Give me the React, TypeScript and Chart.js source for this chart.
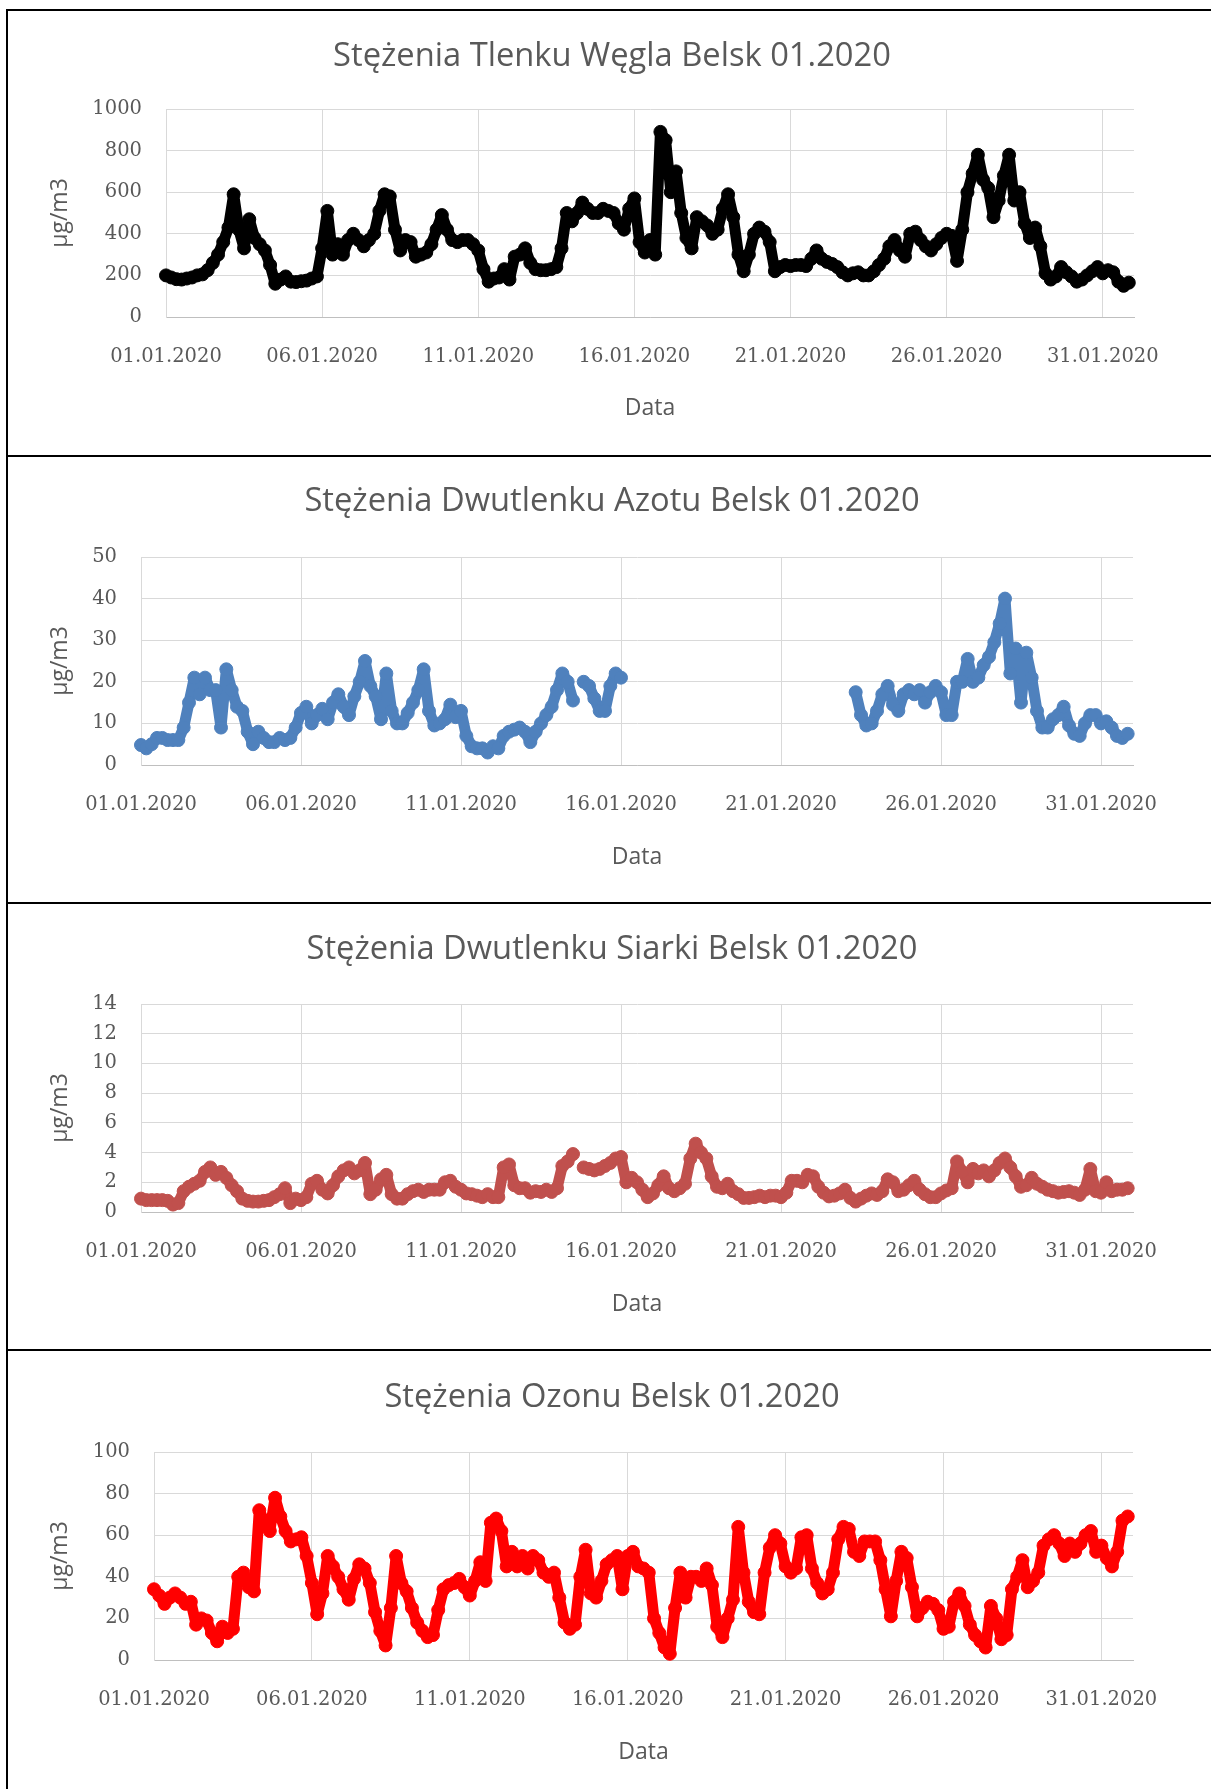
import React, { useEffect, useRef } from "react";
import { Chart, registerables } from "chart.js";

Chart.register(...registerables);

// ---------- DATA ----------
const tickLabels = ["01.01.2020", "06.01.2020", "11.01.2020", "16.01.2020", "21.01.2020", "26.01.2020", "31.01.2020"];
const samplesPerDay = 6; // one reading every 4 hours

const coValues = [
  200, 190, 182, 180, 185, 190,
  200, 205, 225, 260, 300, 360,
  430, 590, 420, 330, 470, 380,
  350, 320, 250, 160, 180, 195,
  170, 168, 172, 175, 185, 195,
  330, 510, 300, 350, 300, 370,
  400, 370, 340, 370, 400, 510,
  590, 580, 420, 320, 370, 360,
  290, 300, 310, 350, 420, 490,
  420, 370, 360, 370, 370, 350,
  320, 230, 170, 185, 190, 230,
  180, 290, 300, 330, 260, 230,
  225, 225, 230, 240, 330, 500,
  460, 500, 550, 520, 500, 500,
  520, 510, 500, 450, 420, 520,
  570, 360, 310, 370, 300, 890,
  850, 600, 700, 500, 380, 330,
  480, 460, 440, 400, 420, 520,
  590, 480, 300, 220, 300, 400,
  430, 410, 360, 220, 240, 250,
  245, 250, 250, 245, 280, 320,
  280, 265, 255, 240, 215, 200,
  210, 215, 200, 200, 220, 250,
  280, 340, 370, 320, 290, 400,
  410, 370, 340, 320, 350, 380,
  400, 390, 270, 420, 600, 690,
  780, 660, 620, 480, 560, 680,
  780, 560, 600, 450, 380, 430,
  340, 210, 180, 195, 240, 215,
  195, 170, 180, 200, 220, 240,
  210, 225, 215, 170, 150, 165,
];

const no2Values = [
  4.8, 4, 5, 6.5, 6.5, 6,
  6, 6, 9, 15, 21, 17,
  21, 18, 18, 9, 23, 18,
  14, 13, 8, 5, 8, 6.5,
  5.5, 5.5, 6.5, 6, 6.5, 9,
  12.5, 14, 10, 12, 13.5, 11,
  15, 17, 14, 12, 16.5, 20,
  25, 19, 16.5, 11, 22, 13,
  10, 10, 12.5, 15, 18, 23,
  13, 9.5, 10, 11, 14.5, 11.5,
  13, 7, 4.5, 4, 4, 3,
  4.5, 4, 7, 8, 8.5, 9,
  8, 5.5, 8, 10, 12, 14,
  18, 22, 20, 15.5, null, 20,
  19, 16, 13, 13, 19, 22,
  21, null, null, null, null, null,
  null, null, null, null, null, null,
  null, null, null, null, null, null,
  null, null, null, null, null, null,
  null, null, null, null, null, null,
  null, null, null, null, null, null,
  null, null, null, null, null, null,
  null, null, 17.5, 12, 9.5, 10,
  13, 17, 19, 14.5, 13, 17,
  18, 17, 18, 15, 17.5, 19,
  17.5, 12, 12, 20, 20, 25.5,
  20, 21, 24, 26, 29.5, 34,
  40, 22, 28, 15, 27, 21,
  13, 9, 9, 11, 12, 14,
  9.5, 7.5, 7, 10, 12, 12,
  10, 10.5, 9, 7, 6.5, 7.5,
];

const so2Values = [
  0.9, 0.8, 0.8, 0.8, 0.8, 0.75,
  0.5, 0.6, 1.4, 1.7, 1.9, 2.1,
  2.7, 3.0, 2.5, 2.7, 2.3, 1.8,
  1.4, 0.9, 0.75, 0.7, 0.7, 0.75,
  0.8, 1.0, 1.2, 1.6, 0.6, 0.9,
  0.8, 1.0, 1.9, 2.1, 1.5, 1.25,
  1.8, 2.4, 2.8, 3.0, 2.6, 2.8,
  3.3, 1.2, 1.5, 2.2, 2.5, 1.2,
  0.9, 0.9, 1.2, 1.4, 1.5, 1.35,
  1.5, 1.5, 1.5, 2.0, 2.1, 1.7,
  1.5, 1.25, 1.2, 1.1, 1.0, 1.2,
  1.0, 1.0, 3.0, 3.2, 1.8, 1.6,
  1.6, 1.3, 1.4, 1.35, 1.5, 1.35,
  1.6, 3.1, 3.4, 3.9, null, 3.0,
  2.9, 2.8, 2.9, 3.1, 3.3, 3.6,
  3.7, 2.0, 2.3, 2.0, 1.5, 1.0,
  1.25, 1.8, 2.4, 1.6, 1.4, 1.6,
  1.9, 3.6, 4.6, 4.0, 3.6, 2.4,
  1.7, 1.6, 1.9, 1.4, 1.2, 0.95,
  0.95, 1.0, 1.1, 1.0, 1.1, 1.1,
  1.0, 1.3, 2.1, 2.1, 2.0, 2.5,
  2.4, 1.7, 1.3, 1.05, 1.1, 1.25,
  1.5, 0.95, 0.7, 0.9, 1.1, 1.25,
  1.15, 1.4, 2.2, 2.0, 1.4, 1.5,
  1.8, 2.1, 1.5, 1.2, 1.0, 1.0,
  1.25, 1.45, 1.6, 3.4, 2.7, 2.0,
  2.9, 2.6, 2.8, 2.4, 2.8, 3.3,
  3.6, 3.0, 2.4, 1.7, 1.8, 2.3,
  1.9, 1.7, 1.5, 1.4, 1.3, 1.35,
  1.4, 1.3, 1.15, 1.5, 2.9, 1.4,
  1.3, 2.0, 1.4, 1.5, 1.5, 1.6,
];

const o3Values = [
  34, 31, 27, 30, 32, 30,
  27, 28, 17, 20, 19, 13,
  9, 16, 13, 15, 40, 42,
  35, 33, 72, 66, 62, 78,
  69, 62, 57, 58, 59, 50,
  37, 22, 32, 50, 45, 40,
  34, 29, 39, 46, 44, 37,
  23, 14, 7, 25, 50, 37,
  33, 25, 18, 14, 11, 12,
  24, 34, 36, 37, 39, 35,
  31, 38, 47, 38, 66, 68,
  62, 45, 52, 45, 50, 44,
  50, 48, 42, 40, 42, 30,
  18, 15, 17, 40, 53, 32,
  30, 38, 46, 48, 50, 34,
  50, 52, 45, 44, 42, 20,
  13, 6, 3, 25, 42, 30,
  40, 40, 38, 44, 36, 16,
  11, 20, 29, 64, 42, 28,
  23, 22, 42, 54, 60, 56,
  45, 42, 44, 59, 60, 44,
  37, 32, 34, 42, 58, 64,
  63, 52, 50, 57, 57, 57,
  48, 34, 21, 38, 52, 49,
  35, 21, 25, 28, 27, 24,
  15, 16, 28, 32, 26, 17,
  12, 9, 6, 26, 20, 10,
  12, 34, 40, 48, 35, 38,
  42, 55, 58, 60, 56, 50,
  56, 52, 56, 60, 62, 52,
  55, 49, 45, 52, 67, 69,
];

const titles = [
  "Stężenia Tlenku Węgla Belsk 01.2020",
  "Stężenia Dwutlenku Azotu Belsk 01.2020",
  "Stężenia Dwutlenku Siarki Belsk 01.2020",
  "Stężenia Ozonu Belsk 01.2020",
];
const yMaxes = [1000, 50, 14, 100];
const ySteps = [200, 10, 2, 20];
const xTitle = "Data";
const yTitle = "µg/m3";

// ---------- LAYOUT / STYLE ----------
const CANVAS_W = 1224;
const CANVAS_H = 445;
const PLOT_H = 208;

const panels = [
  { values: coValues, color: "#000000", top: 11, chartTop: 98, chartLeft: 166, chartRight: 1134, titleY: 46, dataGap: 91 },
  { values: no2Values, color: "#4F81BD", top: 457, chartTop: 100, chartLeft: 141, chartRight: 1133, titleY: 45, dataGap: 92 },
  { values: so2Values, color: "#C0504D", top: 904, chartTop: 100, chartLeft: 141, chartRight: 1133, titleY: 46, dataGap: 92 },
  { values: o3Values, color: "#FF0000", top: 1351, chartTop: 101, chartLeft: 154, chartRight: 1133, titleY: 47, dataGap: 92 },
];

const TEXT_COLOR = "#595959";
const GRID_COLOR = "#D9D9D9";
const SANS = "'Open Sans', 'DejaVu Sans', sans-serif";
const SERIF = "'DejaVu Serif', serif";
const TITLE_SIZE = 32.7;
const AXIS_TITLE_SIZE = 23;
const TICK_SIZE = 19.5;
const LH = 1.2;

function PanelChart({ index }: { index: number }) {
  const ref = useRef<HTMLCanvasElement | null>(null);

  useEffect(() => {
    const p = panels[index];
    const canvas = ref.current;
    if (!canvas) return;
    const chartBottom = p.chartTop + PLOT_H;
    const titleLH = TITLE_SIZE * LH;
    const titlePadTop = p.titleY - titleLH / 2;
    const titlePadBottom = p.chartTop - titleLH - titlePadTop;
    const axisLH = AXIS_TITLE_SIZE * LH;
    const tickLH = TICK_SIZE * LH;
    const dataPadBottom = CANVAS_H - axisLH / 2 - (chartBottom + p.dataGap);
    const yTitlePadTop = 60 - axisLH / 2;

    const points = p.values.map((v, i) => ({ x: i / samplesPerDay, y: v }));

    const chart = new Chart(canvas, {
      type: "line",
      data: {
        datasets: [
          {
            data: points as any,
            xAxisID: "x",
            yAxisID: "y",
            borderColor: p.color,
            backgroundColor: p.color,
            pointBackgroundColor: p.color,
            pointBorderColor: p.color,
            pointRadius: 6.5,
            pointBorderWidth: 1,
            pointHoverRadius: 6.5,
            borderWidth: 11,
            borderJoinStyle: "round",
            borderCapStyle: "round",
            tension: 0,
            spanGaps: false,
            clip: false as any,
          },
        ],
      },
      options: {
        animation: false,
        responsive: false,
        maintainAspectRatio: false,
        events: [],
        layout: { padding: 0 },
        plugins: {
          legend: { display: false },
          tooltip: { enabled: false },
          title: {
            display: true,
            text: titles[index],
            color: TEXT_COLOR,
            font: { family: SANS, size: TITLE_SIZE, weight: "normal" as any, lineHeight: LH },
            padding: { top: titlePadTop, bottom: titlePadBottom },
          },
        },
        scales: {
          x: {
            type: "linear",
            position: "bottom",
            min: 0,
            max: 31,
            grid: { color: GRID_COLOR, lineWidth: 1, drawTicks: false },
            border: { display: true, color: "#BFBFBF", width: 1 },
            ticks: {
              stepSize: 5,
              includeBounds: false,
              autoSkip: false,
              maxRotation: 0,
              minRotation: 0,
              padding: 40 - tickLH / 2,
              color: TEXT_COLOR,
              font: { family: SERIF, size: TICK_SIZE, lineHeight: LH },
              callback: (v: any) => tickLabels[Math.round(Number(v) / 5)] ?? "",
            },
            title: {
              display: true,
              text: xTitle,
              color: TEXT_COLOR,
              font: { family: SANS, size: AXIS_TITLE_SIZE, lineHeight: LH },
              padding: { top: 0, bottom: dataPadBottom },
            },
            afterFit: (s: any) => {
              s.height = CANVAS_H - chartBottom;
            },
          },
          y: {
            type: "linear",
            position: "left",
            min: 0,
            max: yMaxes[index],
            grid: { color: GRID_COLOR, lineWidth: 1, drawTicks: false },
            border: { display: true, color: GRID_COLOR, width: 1 },
            ticks: {
              stepSize: ySteps[index],
              padding: 24,
              color: TEXT_COLOR,
              font: { family: SERIF, size: TICK_SIZE, lineHeight: LH },
              callback: (v: any) => String(v),
            },
            title: {
              display: true,
              text: yTitle,
              color: TEXT_COLOR,
              font: { family: SANS, size: AXIS_TITLE_SIZE, lineHeight: LH },
              padding: { top: yTitlePadTop, bottom: 0 },
            },
            afterFit: (s: any) => {
              s.width = p.chartLeft;
            },
          },
          yRight: {
            type: "linear",
            position: "right",
            display: true,
            grid: { display: false, drawTicks: false },
            border: { display: false },
            ticks: { display: false },
            afterFit: (s: any) => {
              s.width = CANVAS_W - p.chartRight;
            },
          },
        },
      } as any,
    });
    return () => chart.destroy();
  }, [index]);

  return <canvas ref={ref} width={CANVAS_W} height={CANVAS_H} style={{ display: "block", width: CANVAS_W, height: CANVAS_H }} />;
}

export default function App() {
  const borderYs = [9, 455, 902, 1349];
  return (
    <div
      style={{
        position: "absolute",
        left: 0,
        top: 0,
        width: 1211,
        height: 1789,
        overflow: "hidden",
        background: "#ffffff",
      }}
    >
      {panels.map((p, i) => (
        <div key={i} style={{ position: "absolute", left: 0, top: p.top, width: CANVAS_W, height: CANVAS_H }}>
          <PanelChart index={i} />
        </div>
      ))}
      {borderYs.map((y, i) => (
        <div key={"h" + i} style={{ position: "absolute", left: 6, top: y, width: 1205, height: 2, background: "#000" }} />
      ))}
      <div style={{ position: "absolute", left: 6, top: 9, width: 2, height: 1780, background: "#000" }} />
    </div>
  );
}
